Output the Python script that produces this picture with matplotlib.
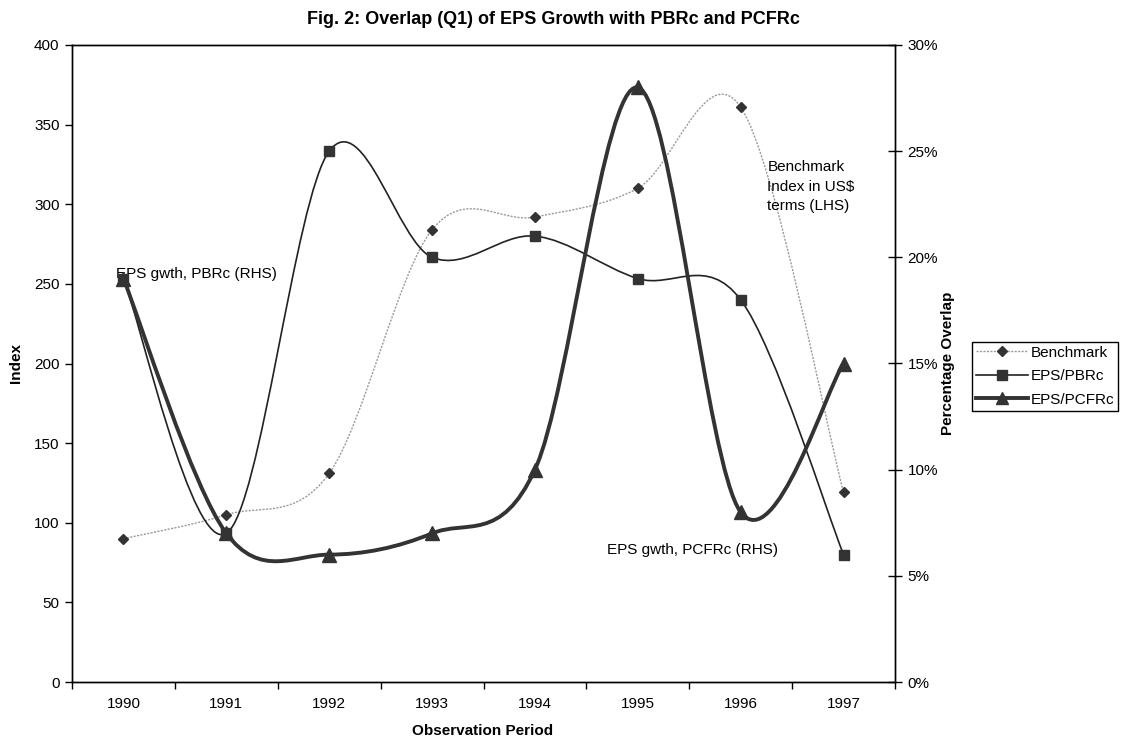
import numpy as np
import matplotlib
matplotlib.use("Agg")
import matplotlib.pyplot as plt
from matplotlib.path import Path
from matplotlib.patches import PathPatch
from matplotlib.lines import Line2D
from matplotlib.ticker import FuncFormatter, MultipleLocator

plt.rcParams['font.family'] = ['Liberation Sans', 'DejaVu Sans']

years = ['1990', '1991', '1992', '1993', '1994', '1995', '1996', '1997']
benchmark = [90, 105, 131, 284, 292, 310, 361, 119]            # index, LHS
eps_pbrc = [0.19, 0.07, 0.25, 0.20, 0.21, 0.19, 0.18, 0.06]     # overlap, RHS
eps_pcfrc = [0.19, 0.07, 0.06, 0.07, 0.10, 0.28, 0.08, 0.15]    # overlap, RHS

DARK = '#333333'


def smooth_path(xs, ys):
    """Excel-style smoothed line: cubic Bezier through every point."""
    pts = np.column_stack([xs, ys]).astype(float)
    n = len(pts)
    verts = [pts[0]]
    codes = [Path.MOVETO]
    for i in range(n - 1):
        p0 = pts[max(i - 1, 0)]
        p1 = pts[i]
        p2 = pts[i + 1]
        p3 = pts[min(i + 2, n - 1)]
        verts += [p1 + (p2 - p0) / 6, p2 - (p3 - p1) / 6, p2]
        codes += [Path.CURVE4] * 3
    return Path(verts, codes)


x = np.arange(len(years))

fig = plt.figure(figsize=(11.22, 7.4), dpi=100)
ax = fig.add_axes([72 / 1122, 1 - 682 / 740, (895 - 72) / 1122, (682 - 45) / 740])
ax2 = ax.twinx()

# benchmark on the left axis
ax.add_patch(PathPatch(smooth_path(x, benchmark), fill=False, edgecolor='#9a9a9a',
                       lw=1.0, ls=(0, (1.5, 1.0))))
ax.plot(x, benchmark, ls='none', marker='D', ms=5.5, color=DARK)

# overlap series on the right axis
ax2.add_patch(PathPatch(smooth_path(x, eps_pbrc), fill=False, edgecolor='#222222', lw=1.2))
ax2.plot(x, eps_pbrc, ls='none', marker='s', ms=6.5, color=DARK)
ax2.add_patch(PathPatch(smooth_path(x, eps_pcfrc), fill=False, edgecolor=DARK, lw=2.8,
                        capstyle='round', joinstyle='round'))
ax2.plot(x, eps_pcfrc, ls='none', marker='^', ms=9.5, color=DARK)

ax.set_xlim(-0.5, len(years) - 0.5)
ax.set_ylim(0, 400)
ax2.set_ylim(0, 0.30)

ax.set_xticks(x)
ax.set_xticklabels(years)
ax.set_xticks(np.arange(len(years) + 1) - 0.5, minor=True)
ax.tick_params(axis='x', which='major', length=0, pad=11, labelsize=11)
ax.tick_params(axis='x', which='minor', length=5, direction='out', width=1)
ax.yaxis.set_major_locator(MultipleLocator(50))
ax.tick_params(axis='y', length=5, direction='out', width=1, pad=4, labelsize=11)

ax2.yaxis.set_major_locator(MultipleLocator(0.05))
ax2.yaxis.set_major_formatter(FuncFormatter(lambda v, p: f'{v * 100:.0f}%'))
ax2.tick_params(axis='y', length=10, direction='inout', width=1, pad=4, labelsize=11)

for a in (ax, ax2):
    for s in a.spines.values():
        s.set_color('black')
        s.set_linewidth(1)

# in-chart labels
ax.text(-0.07, 256, 'EPS gwth, PBRc (RHS)', fontsize=11, va='center', ha='left')
ax.text(6.26, 311, 'Benchmark\nIndex in US$\nterms (LHS)', fontsize=11, va='center',
        ha='left', linespacing=1.5)
ax.text(4.70, 83, 'EPS gwth, PCFRc (RHS)', fontsize=11, va='center', ha='left')

fig.text(553 / 1122, 1 - 19 / 740, 'Fig. 2: Overlap (Q1) of EPS Growth with PBRc and PCFRc',
         fontsize=13, fontweight='bold', ha='center', va='center')
fig.text(16 / 1122, 1 - 363 / 740, 'Index', fontsize=11, fontweight='bold',
         rotation=90, ha='center', va='center')
fig.text(948 / 1122, 1 - 363 / 740, 'Percentage Overlap', fontsize=11, fontweight='bold',
         rotation=90, ha='center', va='center')
fig.text(483 / 1122, 1 - 731 / 740, 'Observation Period', fontsize=11, fontweight='bold',
         ha='center', va='center')

handles = [
    Line2D([], [], color='#9a9a9a', lw=1.0, ls=(0, (1.5, 1.0)), marker='D', ms=5.5,
           mfc=DARK, mec=DARK),
    Line2D([], [], color='#222222', lw=1.2, marker='s', ms=6.5, mfc=DARK, mec=DARK),
    Line2D([], [], color=DARK, lw=2.8, marker='^', ms=8.5, mfc=DARK, mec=DARK),
]
leg = fig.legend(handles, ['Benchmark', 'EPS/PBRc', 'EPS/PCFRc'], loc='upper left',
                 bbox_to_anchor=(972 / 1122, 1 - 342 / 740), fontsize=11, frameon=True,
                 fancybox=False, framealpha=1, edgecolor='black', borderpad=0.25,
                 handlelength=3.4, handletextpad=0.2, labelspacing=0.62, borderaxespad=0)
leg.get_frame().set_linewidth(1)

fig.savefig('out.png', dpi=100)
